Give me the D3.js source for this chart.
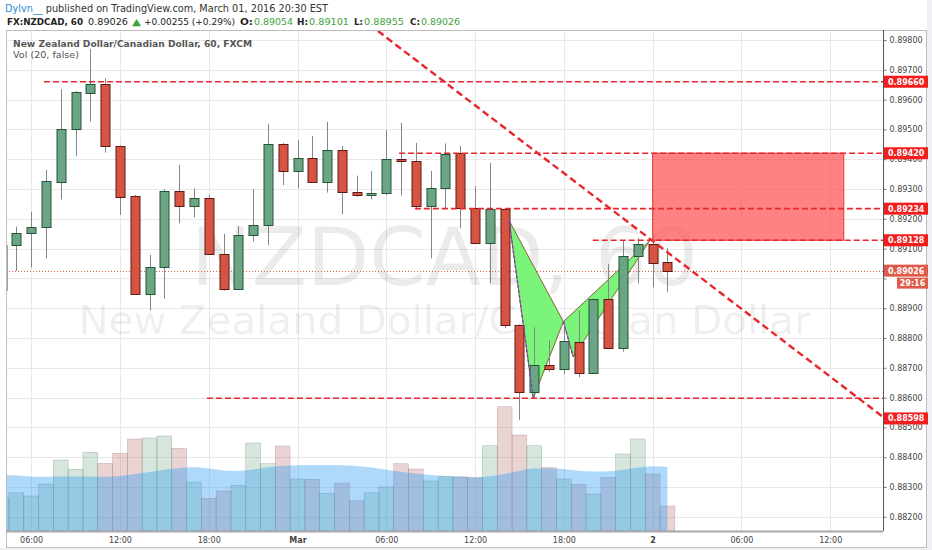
<!DOCTYPE html>
<html><head><meta charset="utf-8">
<script src="https://cdn.jsdelivr.net/npm/d3@7"></script>
<style>body{margin:0;background:#fff;}svg{display:block;}</style>
</head><body>
<svg id="c" width="932" height="550"></svg>
<script>
// ---------------- DATA ----------------
const times = ["2016-02-29T04:00","2016-02-29T05:00","2016-02-29T06:00","2016-02-29T07:00","2016-02-29T08:00","2016-02-29T09:00","2016-02-29T10:00","2016-02-29T11:00","2016-02-29T12:00","2016-02-29T13:00","2016-02-29T14:00","2016-02-29T15:00","2016-02-29T16:00","2016-02-29T17:00","2016-02-29T18:00","2016-02-29T19:00","2016-02-29T20:00","2016-02-29T21:00","2016-02-29T22:00","2016-02-29T23:00","2016-03-01T00:00","2016-03-01T01:00","2016-03-01T02:00","2016-03-01T03:00","2016-03-01T04:00","2016-03-01T05:00","2016-03-01T06:00","2016-03-01T07:00","2016-03-01T08:00","2016-03-01T09:00","2016-03-01T10:00","2016-03-01T11:00","2016-03-01T12:00","2016-03-01T13:00","2016-03-01T14:00","2016-03-01T15:00","2016-03-01T16:00","2016-03-01T17:00","2016-03-01T18:00","2016-03-01T19:00","2016-03-01T20:00","2016-03-01T21:00","2016-03-01T22:00","2016-03-01T23:00","2016-03-02T00:00","2016-03-02T01:00"];
const opens  = [0.88961,0.89111,0.89152,0.89171,0.89325,0.89500,0.89623,0.89652,0.89444,0.89277,0.88947,0.89037,0.89293,0.89243,0.89270,0.89082,0.88963,0.89146,0.89178,0.89450,0.89361,0.89403,0.89323,0.89432,0.89290,0.89281,0.89286,0.89400,0.89394,0.89243,0.89304,0.89420,0.89235,0.89118,0.89232,0.88844,0.88620,0.88709,0.88695,0.88788,0.88682,0.88930,0.88767,0.89075,0.89114,0.89054];
const highs  = [0.89129,0.89174,0.89224,0.89364,0.89635,0.89629,0.89770,0.89671,0.89446,0.89280,0.89079,0.89299,0.89381,0.89302,0.89280,0.89149,0.89176,0.89299,0.89518,0.89455,0.89464,0.89478,0.89525,0.89444,0.89345,0.89360,0.89498,0.89522,0.89455,0.89361,0.89453,0.89444,0.89309,0.89388,0.89235,0.88846,0.88836,0.88793,0.88860,0.88894,0.88932,0.89048,0.89129,0.89135,0.89135,0.89101];
const lows   = [0.88941,0.89026,0.89037,0.89067,0.89265,0.89411,0.89526,0.89422,0.89213,0.88945,0.88892,0.88932,0.89185,0.89205,0.89080,0.88959,0.88963,0.89123,0.89112,0.89313,0.89302,0.89322,0.89288,0.89215,0.89274,0.89265,0.89279,0.89278,0.89230,0.89067,0.89235,0.89168,0.89117,0.88984,0.88833,0.88525,0.88600,0.88687,0.88678,0.88668,0.88682,0.88766,0.88754,0.88984,0.88970,0.88955];
const closes = [0.89112,0.89153,0.89171,0.89326,0.89500,0.89624,0.89652,0.89444,0.89274,0.88947,0.89037,0.89293,0.89243,0.89270,0.89082,0.88963,0.89146,0.89178,0.89450,0.89361,0.89403,0.89323,0.89432,0.89291,0.89281,0.89286,0.89400,0.89393,0.89243,0.89304,0.89417,0.89235,0.89118,0.89232,0.88844,0.88620,0.88709,0.88695,0.88790,0.88682,0.88930,0.88767,0.89075,0.89115,0.89051,0.89026];
const volumes = [1650,1915,1750,2350,3550,3085,3935,3385,3885,4600,4650,4750,4135,2450,1635,2000,2285,4400,3365,4250,2600,2585,1885,2400,1515,1915,2200,3365,3100,2500,2715,2700,2665,4265,6215,4800,4265,3165,2600,2335,1850,2685,3850,4600,2850,1250];
const volumeMA = [2800,2775,2725,2715,2725,2725,2715,2715,2750,2850,2950,3065,3150,3185,3125,3025,3000,3075,3185,3265,3290,3300,3300,3290,3250,3175,3060,2965,2875,2800,2750,2735,2675,2735,2850,3015,3125,3135,3100,3010,2975,2985,3060,3175,3235,3215];

const priceTicks = [0.898,0.897,0.896,0.895,0.894,0.893,0.892,0.891,0.890,0.889,0.888,0.887,0.886,0.885,0.884,0.883,0.882];
const hiddenTickLabels = [0.890];
const timeTicks = ["2016-02-29T06:00","2016-02-29T12:00","2016-02-29T18:00","2016-03-01T00:00","2016-03-01T06:00","2016-03-01T12:00","2016-03-01T18:00","2016-03-02T00:00","2016-03-02T06:00","2016-03-02T12:00"];
const timeTickLabels = ["06:00","12:00","18:00","Mar","06:00","12:00","18:00","2","06:00","12:00"];
const timeTickBold = [false,false,false,true,false,false,false,true,false,false];

const levelPrices = [0.89660,0.89420,0.89234,0.89128,0.88598];
const levelStarts = ["2016-02-29T06:52","2016-03-01T06:52","2016-03-01T07:56","2016-03-01T19:57","2016-02-29T17:53"];
const zoneTimes = ["2016-03-02T00:00","2016-03-02T12:55"];
const zonePrices = [0.89420,0.89128];
const trendTimes = ["2016-03-01T05:26","2016-03-02T15:34"];
const trendPrices = [0.89830,0.88535];
const patternNames = ["X","A","B","C","D"];
const patternTimes = ["2016-03-01T14:18","2016-03-01T15:56","2016-03-01T17:58","2016-03-01T18:38","2016-03-01T23:47"];
const patternPrices = [0.89194,0.88598,0.88855,0.88737,0.89125];
const lastPrice = 0.89026;
const axisLabelTexts = ["0.89660","0.89420","0.89234","0.89128","0.88598"];
const axisLabelPrices = [0.89660,0.89420,0.89234,0.89128,0.88530];
const countdownText = "29:16";

// ---------------- SETUP ----------------
const parse = d3.utcParse("%Y-%m-%dT%H:%M");
const svg = d3.select("#c");
const P = {l:6, r:883, t:30, b:531};
const FONT = "'DejaVu Sans', Verdana, sans-serif";

const x = d3.scaleUtc().domain([parse("2016-02-29T04:18"), parse("2016-03-02T15:34")]).range([P.l, P.r]);
const y = d3.scaleLinear().domain([0.881523, 0.898336]).range([P.b, P.t]);
const yv = d3.scaleLinear().domain([0, 6000]).range([P.b, P.b - 120]);

const candles = times.map((t,i)=>({d:parse(t), o:opens[i], h:highs[i], l:lows[i], c:closes[i], v:volumes[i], ma:volumeMA[i]}));

svg.append("rect").attr("width",932).attr("height",550).attr("fill","#eef0f3");
svg.append("rect").attr("x",0).attr("y",0).attr("width",927).attr("height",548).attr("fill","#fff");

const defs = svg.append("defs");
defs.append("clipPath").attr("id","pc").append("rect")
  .attr("x",P.l).attr("y",P.t).attr("width",P.r-P.l).attr("height",P.b-P.t);

// ---------------- HEADER ----------------
const h1 = svg.append("text").attr("x",5).attr("y",12).style("font-family",FONT).style("font-size","9.7px")
  .attr("textLength",323).attr("lengthAdjust","spacingAndGlyphs");
h1.append("tspan").attr("fill","#2b8ad6").text("Dylvn__");
h1.append("tspan").attr("fill","#333").text(" published on TradingView.com, March 01, 2016 20:30 EST");

const hdr = [
  {x:7, w:76, t:"FX:NZDCAD, 60", c:"#222", b:true},
  {x:88, w:40, t:"0.89026", c:"#222", b:false},
  {x:132, w:9, t:"▲", c:"#3da33d", b:false},
  {x:144, w:91, t:"+0.00255 (+0.29%)", c:"#222", b:false},
  {x:240, w:13, t:"O:", c:"#222", b:true},
  {x:254, w:39, t:"0.89054", c:"#3da33d", b:false},
  {x:297, w:11, t:"H:", c:"#222", b:true},
  {x:309, w:40, t:"0.89101", c:"#3da33d", b:false},
  {x:354, w:9, t:"L:", c:"#222", b:true},
  {x:364, w:40, t:"0.88955", c:"#3da33d", b:false},
  {x:410, w:10, t:"C:", c:"#222", b:true},
  {x:421, w:39, t:"0.89026", c:"#3da33d", b:false}
];
svg.append("g").selectAll("text").data(hdr).join("text")
  .attr("x",d=>d.x).attr("y",25)
  .attr("textLength",d=>d.w).attr("lengthAdjust","spacingAndGlyphs")
  .style("font-family",FONT).style("font-size","9.4px")
  .style("font-weight",d=>d.b?"bold":"normal")
  .attr("fill",d=>d.c).text(d=>d.t);

// ---------------- PLOT ----------------
const plot = svg.append("g").attr("clip-path","url(#pc)");

// grid
plot.append("g").selectAll("line.h").data(priceTicks).join("line")
  .attr("x1",P.l).attr("x2",P.r)
  .attr("y1",d=>Math.round(y(d))+0.5).attr("y2",d=>Math.round(y(d))+0.5)
  .attr("stroke","#e8e8e8").attr("stroke-width",1);
plot.append("g").selectAll("line.v").data(timeTicks).join("line")
  .attr("y1",P.t).attr("y2",P.b)
  .attr("x1",d=>Math.round(x(parse(d)))+0.5).attr("x2",d=>Math.round(x(parse(d)))+0.5)
  .attr("stroke","#e8e8e8").attr("stroke-width",1);

// watermark
plot.append("text").attr("x",(P.l+P.r)/2).attr("y",285).attr("text-anchor","middle")
  .style("font-family",FONT).style("font-size","80px").attr("fill","#000").attr("fill-opacity",0.08)
  .attr("textLength",507).attr("lengthAdjust","spacingAndGlyphs")
  .text("NZDCAD, 60");
plot.append("text").attr("x",(P.l+P.r)/2).attr("y",334).attr("text-anchor","middle")
  .style("font-family",FONT).style("font-size","39px").attr("fill","#000").attr("fill-opacity",0.08)
  .attr("textLength",732).attr("lengthAdjust","spacingAndGlyphs")
  .text("New Zealand Dollar/Canadian Dollar");

// volume bars
plot.append("g").selectAll("rect").data(candles).join("rect")
  .attr("x",d=>x(d3.utcMinute.offset(d.d,-30)))
  .attr("width",d=>x(d3.utcMinute.offset(d.d,30))-x(d3.utcMinute.offset(d.d,-30)))
  .attr("y",d=>yv(d.v)).attr("height",d=>P.b-yv(d.v))
  .attr("fill",d=>d.c>=d.o?"rgba(107,165,131,0.28)":"rgba(190,130,125,0.34)")
  .attr("stroke",d=>d.c>=d.o?"rgba(60,110,80,0.35)":"rgba(120,70,65,0.3)")
  .attr("stroke-width",0.6);

// volume MA area
plot.append("path").datum(candles)
  .attr("d",d3.area().x(d=>x(d.d)).y0(P.b).y1(d=>yv(d.ma)).curve(d3.curveMonotoneX))
  .attr("fill","#2196f3").attr("fill-opacity",0.36);

// last price line
plot.append("line").attr("x1",P.l).attr("x2",P.r)
  .attr("y1",Math.round(y(lastPrice))+0.5).attr("y2",Math.round(y(lastPrice))+0.5)
  .attr("stroke","#e0604a").attr("stroke-width",1).attr("stroke-dasharray","1,2");

// pattern fills
const pts = patternTimes.map((t,i)=>[x(parse(t)), y(patternPrices[i])]);
const tri = (a,b,c)=>`M${pts[a]}L${pts[b]}L${pts[c]}Z`;
plot.append("path").attr("d",tri(0,1,2)).attr("fill","#7af57a").attr("stroke","#8c6239").attr("stroke-width",1);
plot.append("path").attr("d",tri(2,3,4)).attr("fill","#7af57a").attr("stroke","#8c6239").attr("stroke-width",1);

// candles
const cg = plot.append("g");
const cx = d=>Math.round(x(d.d))+0.5;
cg.selectAll("line").data(candles).join("line")
  .attr("x1",cx).attr("x2",cx).attr("y1",d=>y(d.h)).attr("y2",d=>y(d.l))
  .attr("stroke","#858587").attr("stroke-width",1);
cg.selectAll("rect").data(candles).join("rect")
  .attr("x",d=>cx(d)-4.5).attr("width",9)
  .attr("y",d=>Math.round(y(Math.max(d.o,d.c)))+0.5)
  .attr("height",d=>Math.max(1,Math.round(y(Math.min(d.o,d.c)))-Math.round(y(Math.max(d.o,d.c)))))
  .attr("fill",d=>d.c>=d.o?"#6ba583":"#d75442")
  .attr("stroke",d=>d.c>=d.o?"#225437":"#5b1a13").attr("stroke-width",1);

// purple dashed legs
plot.append("path").attr("d",`M${pts[0]}L${pts[1]}M${pts[2]}L${pts[3]}`)
  .attr("fill","none").attr("stroke","#7b3fc4").attr("stroke-width",1.3).attr("stroke-dasharray","3,2");

// zone rectangle
plot.append("rect")
  .attr("x",x(parse(zoneTimes[0]))).attr("width",x(parse(zoneTimes[1]))-x(parse(zoneTimes[0])))
  .attr("y",y(zonePrices[0])).attr("height",y(zonePrices[1])-y(zonePrices[0]))
  .attr("fill","rgba(255,82,82,0.72)").attr("stroke","#e53935").attr("stroke-width",1);

// horizontal dashed levels
plot.append("g").selectAll("line").data(levelPrices).join("line")
  .attr("x1",(d,i)=>x(parse(levelStarts[i]))).attr("x2",P.r)
  .attr("y1",d=>y(d)).attr("y2",d=>y(d))
  .attr("stroke","#e8262b").attr("stroke-width",1.6).attr("stroke-dasharray","6,3");

// diagonal trend line
plot.append("line")
  .attr("x1",x(parse(trendTimes[0]))).attr("y1",y(trendPrices[0]))
  .attr("x2",x(parse(trendTimes[1]))).attr("y2",y(trendPrices[1]))
  .attr("stroke","#e8262b").attr("stroke-width",2.4).attr("stroke-dasharray","7,4");

// ---------------- FRAME & AXES ----------------
svg.append("rect").attr("x",P.l+0.5).attr("y",P.t+0.5).attr("width",927-P.l-1).attr("height",548-P.t-1)
  .attr("fill","none").attr("stroke","#bdbdbd");
svg.append("line").attr("x1",P.l).attr("x2",P.r).attr("y1",P.b+0.5).attr("y2",P.b+0.5)
  .attr("stroke","#a8a8a8").attr("stroke-width",2);

const fmt5 = d3.format(".5f");
const yAxis = svg.append("g").attr("transform",`translate(${P.r+0.5},0)`)
  .call(d3.axisRight(y).tickValues(priceTicks)
    .tickFormat(d=>hiddenTickLabels.some(h=>Math.abs(h-d)<1e-9)?"":fmt5(d)).tickSize(3).tickPadding(3));
yAxis.select(".domain").attr("stroke","#555").attr("d",`M0,${P.t}V${P.b}`);
yAxis.selectAll(".tick line").attr("stroke","#777");
yAxis.selectAll("text").style("font-family",FONT).style("font-size","8px").attr("fill","#444");

const xAxis = svg.append("g").attr("transform",`translate(0,${P.b+1})`)
  .call(d3.axisBottom(x).tickValues(timeTicks.map(parse)).tickFormat((d,i)=>timeTickLabels[i]).tickSize(0).tickPadding(5));
xAxis.select(".domain").remove();
xAxis.selectAll("text").style("font-family",FONT).style("font-size","8px").attr("fill","#444")
  .style("font-weight",(d,i)=>timeTickBold[i]?"bold":"normal");

// axis price labels
const lab = svg.append("g");
axisLabelTexts.forEach((t,i)=>{
  const yy = y(axisLabelPrices[i]);
  lab.append("rect").attr("x",884).attr("y",yy-6).attr("width",44).attr("height",12).attr("fill","#f31d1d");
  lab.append("text").attr("x",888).attr("y",yy+3).style("font-family",FONT).style("font-size","8px")
    .style("font-weight","bold").attr("fill","#fff").text(t);
});
{
  const yy = y(lastPrice);
  lab.append("rect").attr("x",884).attr("y",yy-6).attr("width",44).attr("height",12).attr("fill","#df5a48");
  lab.append("text").attr("x",888).attr("y",yy+3).style("font-family",FONT).style("font-size","8px")
    .style("font-weight","bold").attr("fill","#fff").text(fmt5(lastPrice));
  lab.append("rect").attr("x",897).attr("y",yy+7).attr("width",31).attr("height",11).attr("fill","#df5a48");
  lab.append("text").attr("x",912.5).attr("y",yy+15.5).attr("text-anchor","middle").style("font-family",FONT).style("font-size","8px")
    .style("font-weight","bold").attr("fill","#fff").text(countdownText);
}

// legend
svg.append("text").attr("x",13).attr("y",46.5).style("font-family",FONT).style("font-size","9.4px")
  .attr("textLength",239).attr("lengthAdjust","spacingAndGlyphs")
  .style("font-weight","bold").attr("fill","#555").text("New Zealand Dollar/Canadian Dollar, 60, FXCM");
svg.append("text").attr("x",13).attr("y",58).style("font-family",FONT).style("font-size","9.4px")
  .attr("textLength",66).attr("lengthAdjust","spacingAndGlyphs")
  .attr("fill","#555").text("Vol (20, false)");
</script>
</body></html>
